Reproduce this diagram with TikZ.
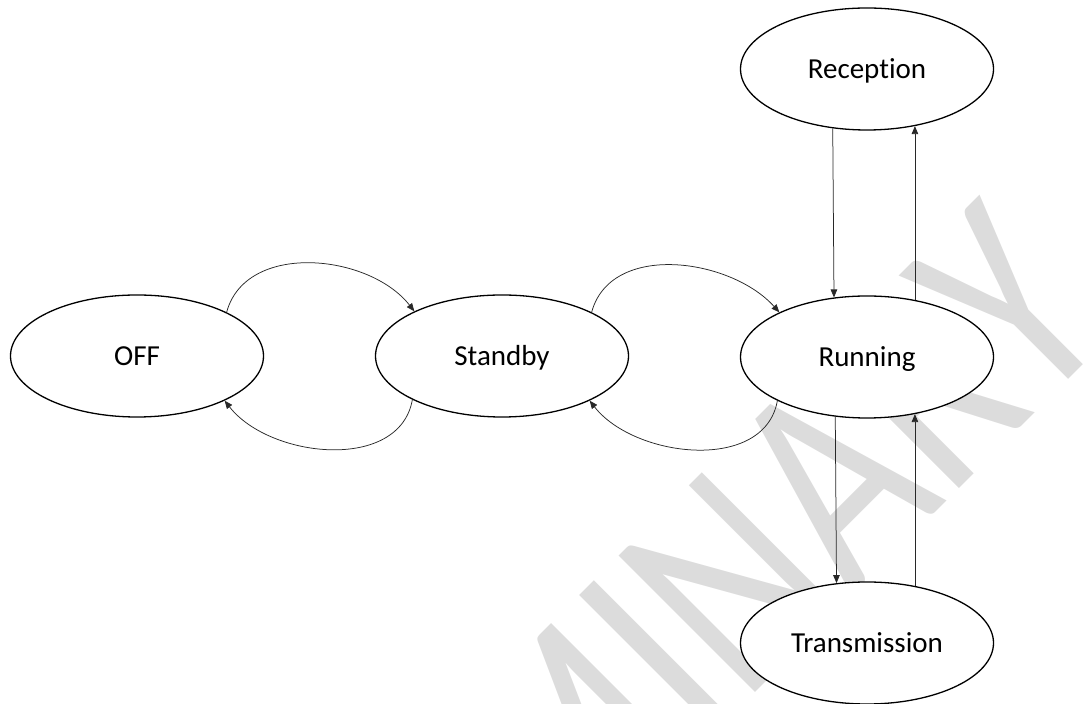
\documentclass[tikz,border=0pt]{standalone}
\usepackage{fontspec}
\setmainfont{Carlito}[Ligatures={NoCommon,NoRare,NoContextual}]
\usetikzlibrary{shapes.geometric,arrows.meta}
\definecolor{wmgray}{RGB}{220,220,220}
\definecolor{linkgray}{RGB}{40,40,40}
\begin{document}
\begin{tikzpicture}[x=1pt,y=1pt,
  state/.style={ellipse,draw=black,line width=1.3pt,fill=white,
    minimum width=253pt,minimum height=122pt,inner sep=0pt,
    text height=18.7pt,text depth=0pt,
    font=\fontsize{29}{33}\selectfont},
  link/.style={draw=linkgray,line width=0.75pt,
    -{Triangle[length=8pt,width=6.5pt]}},
  wmark/.style={anchor=base,rotate=45,yscale=1.28,inner sep=0pt,
    text=wmgray,font=\fontsize{235}{235}\selectfont}
]
\useasboundingbox (0,0) rectangle (1090,704);
\begin{scope}
  \clip (0,0) rectangle (1090,704);
  \node[wmark] (wm) at (838,94) {MINARY};
\end{scope}

\node[state] (off)     at (137,348) {OFF};
\node[state] (standby) at (502,348) {Standby};
\node[state] (running) at (867,347) {Running};
\node[state] (recep)   at (867,635) {Reception};
\node[state] (trans)   at (867,61)  {Transmission};

\draw[link] (off.26) to[out=75,in=128] (standby.153);
\draw[link] (standby.206) to[out=-100,in=-52] (off.-27);
\draw[link] (standby.26) to[out=75,in=132] (running.153);
\draw[link] (running.206) to[out=-100,in=-52] (standby.-27);

\draw[link] (recep.240.7) -- (running.119.3);
\draw[link] (running.50.3) -- (recep.-50.3);
\draw[link] (running.242.3) -- (trans.117.7);
\draw[link] (trans.50.3) -- (running.-50.3);
\end{tikzpicture}
\end{document}
